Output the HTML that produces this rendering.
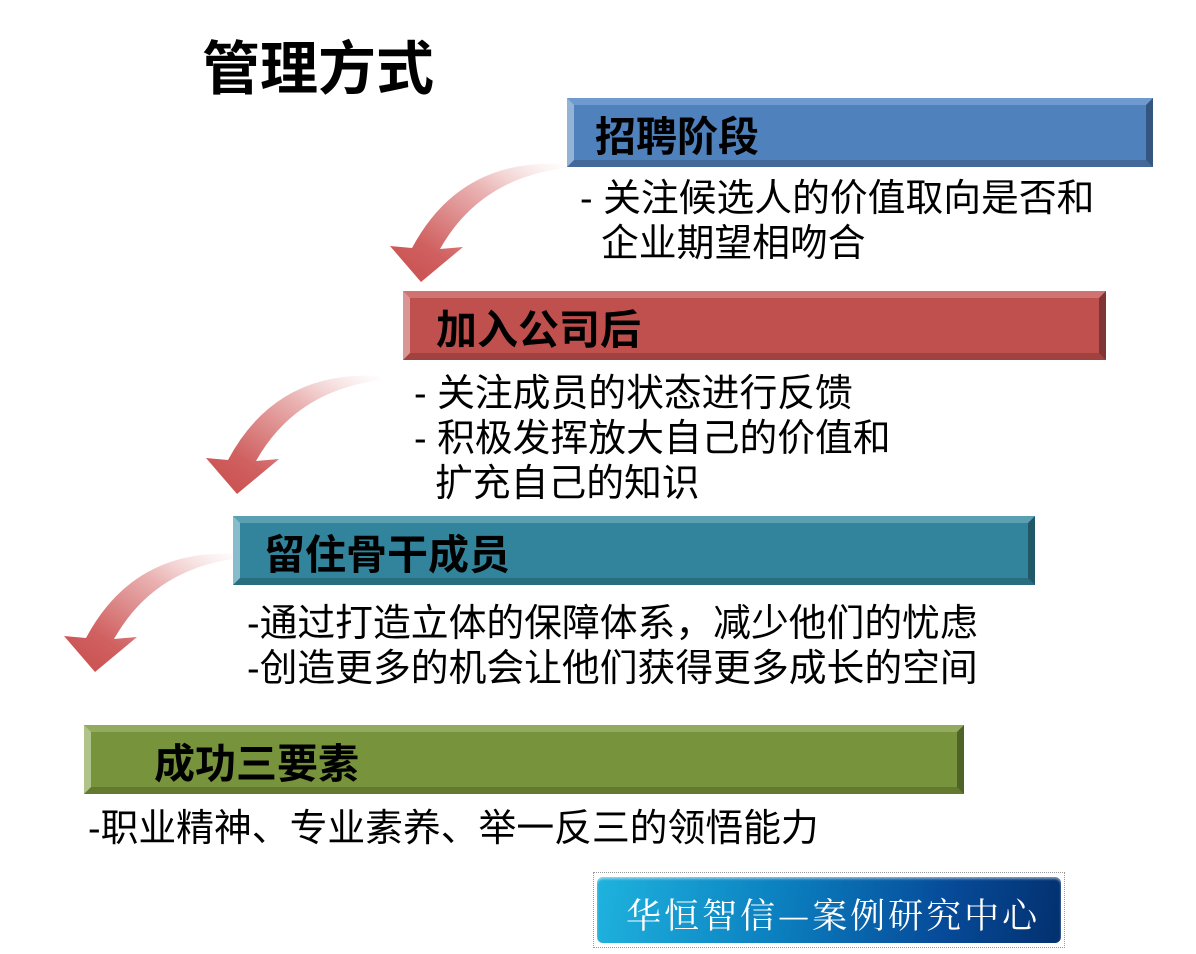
<!DOCTYPE html>
<html><head><meta charset="utf-8"><style>
body{margin:0;width:1196px;height:954px;background:#fff;position:relative;overflow:hidden;font-family:"Liberation Sans","Noto Sans CJK SC",sans-serif;}
.t{position:absolute;white-space:nowrap;color:#000;}
.bar{position:absolute;box-sizing:border-box;border-style:solid;border-width:7px;}
.bar span{position:absolute;top:50%;transform:translateY(-50%);font-weight:bold;font-size:41px;color:#000;}
.body{font-size:37.8px;line-height:45px;}
</style></head><body>
<div class="t" style="left:202px;top:22px;font-size:58px;font-weight:bold;">管理方式</div>

<svg width="1196" height="954" style="position:absolute;left:0;top:0">
<defs><linearGradient id="g" x1="1" y1="0" x2="0" y2="1">
<stop offset="0" stop-color="#fff" stop-opacity="0.6"/><stop offset="0.35" stop-color="#eab3b3"/><stop offset="0.75" stop-color="#d06060"/><stop offset="1" stop-color="#c84c4c"/></linearGradient>
<path id="ar" d="M183,14 Q80,8 32,98 L10,96 L41,132 L83,97 L60,99 Q100,28 186,18 Z" fill="url(#g)"/></defs>
<use href="#ar" x="380" y="150"/>
<use href="#ar" x="196" y="362"/>
<use href="#ar" x="54" y="540"/>
</svg>

<div class="bar" style="left:567px;top:98px;width:586px;height:69px;background:#4f81bd;border-color:#6f9ad0 #34557e #42699a #95b3d7;"><span style="left:21px">招聘阶段</span></div>
<div class="t body" style="left:580px;top:177px;">- 关注候选人的价值取向是否和<br>&nbsp;&nbsp;企业期望相吻合</div>

<div class="bar" style="left:403px;top:291px;width:703px;height:69px;background:#c0504d;border-color:#cf7472 #7f3533 #a04340 #d99694;"><span style="left:26px">加入公司后</span></div>
<div class="t body" style="left:414px;top:372px;">- 关注成员的状态进行反馈<br>- 积极发挥放大自己的价值和<br>&nbsp;&nbsp;扩充自己的知识</div>

<div class="bar" style="left:233px;top:516px;width:802px;height:69px;background:#31849b;border-color:#5a9fb2 #215867 #286d80 #86bccb;"><span style="left:24px">留住骨干成员</span></div>
<div class="t body" style="left:247px;top:602px;">-通过打造立体的保障体系，减少他们的忧虑<br>-创造更多的机会让他们获得更多成长的空间</div>

<div class="bar" style="left:84px;top:725px;width:880px;height:69px;background:#77933c;border-color:#93ab5e #4f6228 #63792f #b0c48a;"><span style="left:63px">成功三要素</span></div>
<div class="t body" style="left:88px;top:807px;">-职业精神、专业素养、举一反三的领悟能力</div>

<div style="position:absolute;left:593px;top:872px;width:472px;height:76px;border:1px dotted #999;box-sizing:border-box;background:#fff;">
<div style="position:absolute;left:3px;top:4px;right:3px;bottom:4px;border-radius:6px;background:linear-gradient(100deg,#1fb3de 0%,#0b7fbf 40%,#064a98 75%,#03306e 100%);box-shadow:inset 0 2px 2px rgba(255,255,255,0.5);"></div>
<div class="t" style="left:32px;top:16px;font-size:35px;color:#fff;font-family:'Noto Serif CJK SC','Liberation Serif',serif;letter-spacing:3px;">华恒智信—案例研究中心</div>
</div>
</body></html>
